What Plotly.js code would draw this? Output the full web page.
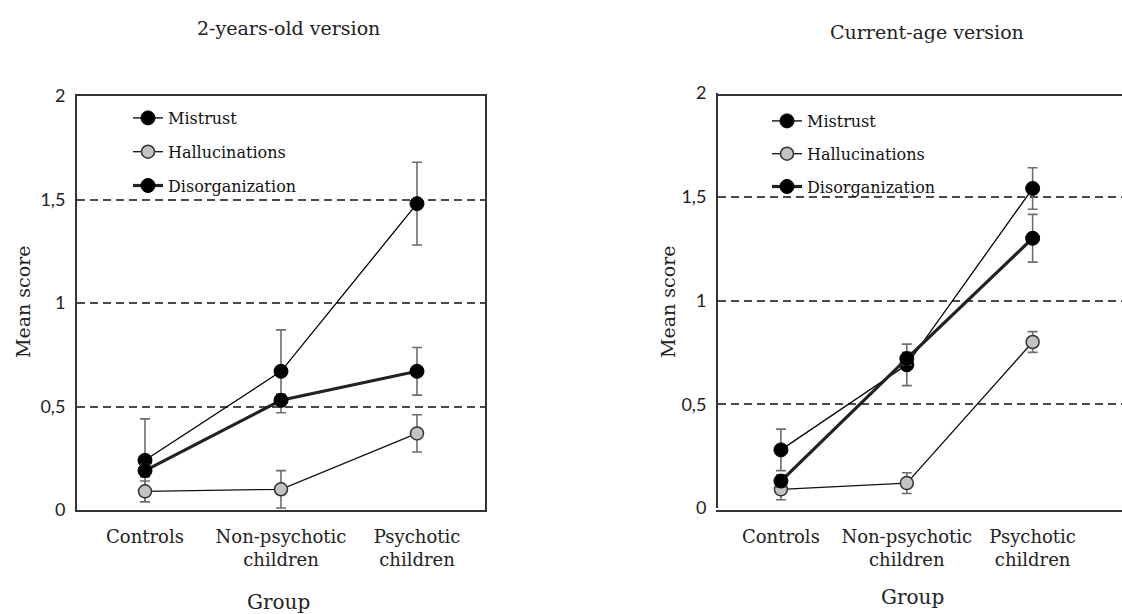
<!DOCTYPE html>
<html>
<head>
<meta charset="utf-8">
<script src="https://cdn.plot.ly/plotly-3.0.1.min.js"></script>
<style>html,body{margin:0;padding:0;background:#fff;}#chart{width:1122px;height:614px;}</style>
</head>
<body>
<div id="chart"></div>
<script>
// ---- data ----
var groupLabels = ["Controls", "Non-psychotic<br>children", "Psychotic<br>children"];
var groupPos = [0, 1, 2];
var seriesNames = ["Mistrust", "Hallucinations", "Disorganization"];

// 2-years-old version
var mistrustOld = [0.24, 0.67, 1.48];
var mistrustOldErr = [0.20, 0.20, 0.20];
var hallucOld = [0.09, 0.10, 0.37];
var hallucOldErr = [0.05, 0.09, 0.09];
var disorgOld = [0.19, 0.53, 0.67];
var disorgOldErr = [0.03, 0.03, 0.115];

// Current-age version
var mistrustCur = [0.28, 0.69, 1.54];
var mistrustCurErr = [0.10, 0.10, 0.10];
var hallucCur = [0.09, 0.12, 0.80];
var hallucCurErr = [0.05, 0.05, 0.05];
var disorgCur = [0.13, 0.72, 1.30];
var disorgCurErr = [0.03, 0.03, 0.115];

var yTickVals = [0, 0.5, 1, 1.5, 2];
var yTickText = ["0", "0,5", "1", "1,5", "2"];
var panelTitles = ["2-years-old version", "Current-age version"];
var xTitle = "Group";
var yTitle = "Mean score";

// ---- styles ----
var serif = "DejaVu Serif";
var errColor = "#6e6e6e";
function errBar(arr) {
  return {type: "data", array: arr, visible: true, color: errColor, thickness: 1.6, width: 5};
}
var styles = [
  {line: {color: "#000", width: 1.3}, marker: {size: 14, color: "#000", line: {color: "#000", width: 1}}},
  {line: {color: "#111", width: 1.3}, marker: {size: 13, color: "#c3c3c3", line: {color: "#333", width: 1.5}}},
  {line: {color: "#222", width: 3.2}, marker: {size: 14, color: "#000", line: {color: "#000", width: 1}}}
];

function mk(y, err, idx, xa, ya, legend, group) {
  return {
    type: "scatter", mode: "lines+markers",
    x: groupPos, y: y, name: seriesNames[idx],
    xaxis: xa, yaxis: ya, legend: legend, legendgroup: group,
    line: styles[idx].line, marker: styles[idx].marker,
    error_y: errBar(err), hoverinfo: "skip"
  };
}

var data = [
  mk(mistrustOld, mistrustOldErr, 0, "x", "y", "legend", "a1"),
  mk(hallucOld, hallucOldErr, 1, "x", "y", "legend", "a2"),
  mk(disorgOld, disorgOldErr, 2, "x", "y", "legend", "a3"),
  mk(mistrustCur, mistrustCurErr, 0, "x2", "y2", "legend2", "b1"),
  mk(hallucCur, hallucCurErr, 1, "x2", "y2", "legend2", "b2"),
  mk(disorgCur, disorgCurErr, 2, "x2", "y2", "legend2", "b3")
];

var W = 1122, H = 614;
function px(x) { return x / W; }
function py(y) { return 1 - y / H; }

function xAxis(domain, range, mirror) {
  return {
    domain: domain, range: range, fixedrange: true,
    tickvals: groupPos, ticktext: groupLabels,
    tickfont: {family: serif, size: 18, color: "#222"},
    showgrid: false, zeroline: false,
    showline: true, linecolor: "#333", linewidth: 2, mirror: mirror,
    ticks: "", ticklabelstandoff: 9
  };
}
function yAxis(domain, anchor, mirror) {
  return {
    domain: domain, range: [0, 2], fixedrange: true, anchor: anchor,
    tickvals: yTickVals, ticktext: yTickText,
    tickfont: {family: "Lato", size: 18, color: "#222"},
    showgrid: true, gridcolor: "#4a4a4a", gridwidth: 2, griddash: "8px,5px",
    zeroline: false,
    showline: true, linecolor: "#333", linewidth: 2, mirror: mirror,
    ticks: "", ticklabelstandoff: 6
  };
}

var legendBase = {
  bgcolor: "rgba(0,0,0,0)", borderwidth: 0,
  font: {family: serif, size: 16, color: "#111"},
  xanchor: "left", yanchor: "top"
};

var layout = {
  width: W, height: H,
  margin: {l: 0, r: 0, t: 0, b: 0},
  paper_bgcolor: "#fff", plot_bgcolor: "#fff",
  showlegend: true,
  xaxis: xAxis([px(77), px(485)], [-0.5, 2.5], true),
  yaxis: yAxis([py(510), py(96)], "x", true),
  xaxis2: xAxis([px(718), 1], [-0.5, 2.71], true),
  yaxis2: yAxis([py(508), py(93)], "x2", false),
  legend: Object.assign({}, legendBase, {x: px(128), y: py(101), tracegroupgap: 10}),
  legend2: Object.assign({}, legendBase, {x: px(767), y: py(104), tracegroupgap: 9}),
  annotations: [
    {text: panelTitles[0], xref: "paper", yref: "paper", x: px(288), y: py(28), showarrow: false,
     font: {family: serif, size: 19, color: "#222"}, xanchor: "center", yanchor: "middle"},
    {text: panelTitles[1], xref: "paper", yref: "paper", x: px(927), y: py(32), showarrow: false,
     font: {family: serif, size: 19, color: "#222"}, xanchor: "center", yanchor: "middle"},
    {text: xTitle, xref: "paper", yref: "paper", x: px(278), y: py(602), showarrow: false,
     font: {family: serif, size: 20, color: "#222"}, xanchor: "center", yanchor: "middle"},
    {text: xTitle, xref: "paper", yref: "paper", x: px(912), y: py(597), showarrow: false,
     font: {family: serif, size: 20, color: "#222"}, xanchor: "center", yanchor: "middle"},
    {text: yTitle, xref: "paper", yref: "paper", x: px(23), y: py(302), showarrow: false, textangle: -90,
     font: {family: serif, size: 19, color: "#222"}, xanchor: "center", yanchor: "middle"},
    {text: yTitle, xref: "paper", yref: "paper", x: px(668), y: py(302), showarrow: false, textangle: -90,
     font: {family: serif, size: 19, color: "#222"}, xanchor: "center", yanchor: "middle"}
  ]
};

Plotly.newPlot("chart", data, layout, {displayModeBar: false, staticPlot: true});
</script>
</body>
</html>
